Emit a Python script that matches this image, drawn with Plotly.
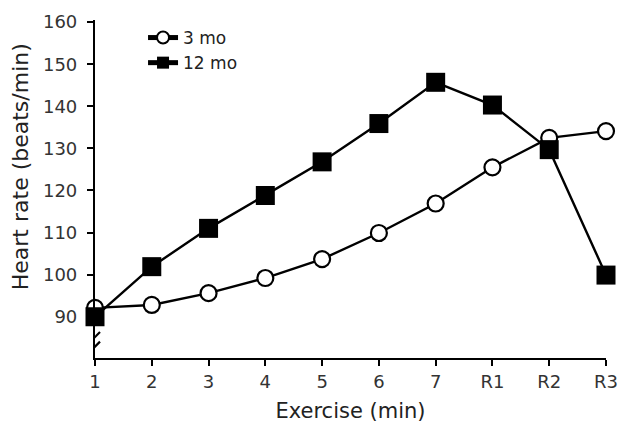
import plotly.graph_objects as go

categories = ["1", "2", "3", "4", "5", "6", "7", "R1", "R2", "R3"]
hr_3mo = [92.1, 92.8, 95.6, 99.2, 103.7, 109.9, 116.9, 125.5, 132.5, 134.1]
hr_12mo = [90.0, 101.9, 111.0, 118.8, 126.8, 135.9, 145.7, 140.3, 129.7, 99.9]
y_ticks = [90, 100, 110, 120, 130, 140, 150, 160]

FONT = "DejaVu Sans"

fig = go.Figure()
fig.add_trace(go.Scatter(
    x=categories, y=hr_3mo, name="3 mo", mode="lines+markers",
    line=dict(color="black", width=2.4),
    marker=dict(symbol="circle", size=16, color="white", line=dict(color="black", width=2.2)),
    cliponaxis=False,
))
fig.add_trace(go.Scatter(
    x=categories, y=hr_12mo, name="12 mo", mode="lines+markers",
    line=dict(color="black", width=2.4),
    marker=dict(symbol="square", size=19, color="black", line=dict(color="black", width=0)),
    cliponaxis=False,
))

# axis break marks
for yc in [85.2, 82.9]:
    fig.add_shape(type="line", xref="x", yref="y", xsizemode="pixel", ysizemode="pixel",
                  xanchor=0, yanchor=yc, x0=-5, x1=5, y0=-5, y1=5,
                  line=dict(color="black", width=2.2), layer="above")

fig.update_layout(
    width=619, height=423,
    margin=dict(l=95, r=13, t=20, b=65, autoexpand=False),
    paper_bgcolor="white", plot_bgcolor="white",
    font=dict(family=FONT, color="#222"),
    showlegend=True,
    legend=dict(x=0.094, y=1.0, xanchor="left", yanchor="top",
                bgcolor="rgba(0,0,0,0)", font=dict(size=17, color="#222"),
                itemsizing="constant", tracegroupgap=0),
    xaxis=dict(type="category", range=[0, 9], showgrid=False, zeroline=False,
               automargin=False,
               showline=True, linecolor="black", linewidth=2.2,
               ticks="outside", ticklen=6, tickwidth=2, tickcolor="black",
               tickfont=dict(size=18, color="#333"),
               title=dict(text="Exercise (min)", font=dict(size=21, color="#222"), standoff=14)),
    yaxis=dict(range=[80.2, 160.5], tickvals=y_ticks, showgrid=False, zeroline=False,
               automargin=False,
               showline=True, linecolor="black", linewidth=2.2,
               ticks="outside", ticklen=6, tickwidth=2, tickcolor="black",
               ticklabelstandoff=6,
               tickfont=dict(size=18, color="#333")),
    annotations=[dict(text="Heart rate (beats/min)", textangle=-90, xref="paper", yref="paper",
                      x=-0.147, y=0.567, showarrow=False, xanchor="center", yanchor="middle",
                      font=dict(size=22, color="#222", family=FONT))],
)

fig.write_html("out.html", config={"displayModeBar": False},
               post_script="document.body.style.margin='0';")
